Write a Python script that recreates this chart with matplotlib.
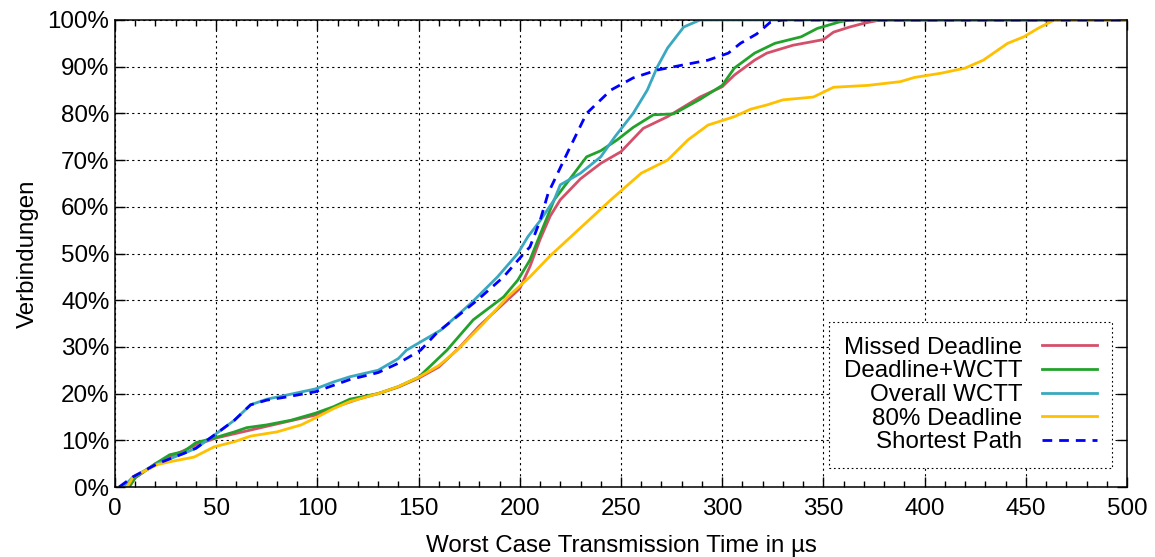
import numpy as np
import matplotlib
matplotlib.use("Agg")
import matplotlib.pyplot as plt
from matplotlib.ticker import MultipleLocator, FuncFormatter

plt.rcParams["font.family"] = ["Liberation Sans", "DejaVu Sans"]

# ── Data (x in µs, y in %) ───────────────────────────────────────────────────
missed_x = [7, 10, 20, 30, 40, 50, 60, 70, 80, 90, 100, 110, 120, 130, 140,
            150, 160, 170, 180, 190, 200, 205, 210, 215, 220, 230, 240, 250,
            261, 273, 289, 300, 306, 316, 322, 335, 350, 355, 363, 370, 378, 500]
missed_y = [0, 2, 5, 7, 9, 10.5, 11.5, 12.5, 13.5, 14.5, 15.5, 17.3, 18.8, 20,
            21.4, 23.3, 25.7, 29.8, 34.5, 38.5, 42.5, 47.2, 53, 58, 61.5, 66,
            69.3, 71.8, 76.8, 79.3, 83.5, 85.7, 88.2, 91.4, 92.9, 94.6, 95.8,
            97.4, 98.5, 99.3, 100, 100]

dwctt_x = [7, 10, 20, 27, 34, 40, 49, 59, 65, 75, 87, 99, 108, 116, 130, 140,
           150, 164, 177, 192, 199, 205, 210, 217, 233, 240, 248, 256, 266,
           276, 289, 300, 306, 316, 326, 339, 347, 358, 363, 500]
dwctt_y = [0, 2, 5, 6.9, 7.6, 9.5, 10.5, 11.8, 12.7, 13.3, 14.3, 15.8, 17.2,
           18.8, 20, 21.5, 23.5, 29.3, 35.8, 40.7, 44.3, 48.6, 54, 61.5, 70.7,
           72, 74.3, 77, 79.7, 79.9, 83, 86, 89.7, 92.9, 95, 96.4, 98.2, 99.6,
           100, 100]

overall_x = [4, 9, 21, 34, 40, 49, 59, 67, 75, 85, 99, 108, 116, 130, 140, 144,
             161, 176, 189, 199, 204, 210, 217, 220, 230, 240, 247, 256, 263,
             268, 273, 281, 289, 500]
overall_y = [0, 2.2, 5, 7.2, 8.3, 11.1, 14.3, 17.6, 18.8, 19.7, 21, 22.5, 23.6,
             25, 27.5, 29.3, 33.6, 39.4, 45, 50, 53.6, 57, 61.5, 64.7, 67.2,
             70.7, 75, 80, 85, 90, 94, 98.5, 100, 100]

d80_x = [6, 9, 21, 27, 39, 49, 59, 67, 80, 92, 100, 108, 116, 130, 140, 150,
         160, 169, 182, 194, 205, 215, 230, 245, 260, 273, 283, 293, 306, 314,
         322, 330, 345, 355, 372, 388, 395, 408, 420, 429, 441, 449, 456, 464,
         500]
d80_y = [0, 2.2, 4.8, 5.4, 6.4, 8.6, 9.7, 10.9, 11.8, 13.3, 15, 16.8, 18.3,
         20, 21.5, 23.5, 26, 29.3, 35, 40.7, 45, 49.5, 55.5, 61.5, 67.2, 70,
         74.3, 77.5, 79.3, 80.9, 81.8, 82.9, 83.5, 85.6, 86, 86.8, 87.7, 88.6,
         89.7, 91.4, 95, 96.4, 98.2, 100, 100]

short_x = [2, 9, 21, 34, 40, 49, 59, 67, 75, 85, 99, 116, 130, 140, 151, 159,
           179, 192, 202, 205, 210, 214, 224, 233, 245, 256, 268, 281, 293,
           303, 309, 317, 324, 330, 500]
short_y = [0, 2.2, 5, 7.2, 8.3, 11.1, 14.3, 17.6, 18.6, 19.3, 20.4, 23, 24.5,
           26.5, 29.3, 33, 40, 45, 50, 51.4, 57, 62.9, 72, 80, 85, 87.6, 89.3,
           90.4, 91.4, 92.9, 95, 97, 99.6, 100, 100]

series = [
    ("Missed Deadline", missed_x, missed_y, "#d4506a", "-"),
    ("Deadline+WCTT", dwctt_x, dwctt_y, "#22a22a", "-"),
    ("Overall WCTT", overall_x, overall_y, "#3aa8c0", "-"),
    ("80% Deadline", d80_x, d80_y, "#ffc000", "-"),
    ("Shortest Path", short_x, short_y, "#0000ff", (0, (3.5, 2.5))),
]

FS = 17.4

# ── Plot ──────────────────────────────────────────────────────────────────────
fig = plt.figure(figsize=(11.55, 5.57), dpi=100)
ax = fig.add_axes([115 / 1155, 70 / 557, 1012 / 1155, 467 / 557])

for label, xs, ys, colour, ls in series:
    ax.plot(xs, ys, color=colour, linestyle=ls, linewidth=2.0, label=label)

ax.set_xlim(0, 500)
ax.set_ylim(0, 100)
ax.xaxis.set_major_locator(MultipleLocator(50))
ax.xaxis.set_minor_locator(MultipleLocator(10))
ax.yaxis.set_major_locator(MultipleLocator(10))
ax.yaxis.set_major_formatter(FuncFormatter(lambda v, _: f"{v:.0f}%"))

ax.grid(True, which="major", color="black", linestyle=(0, (2, 3)),
        linewidth=0.8)
ax.tick_params(which="both", direction="in", top=True, right=True,
               labelsize=FS, width=1)
ax.tick_params(axis="x", pad=8)
ax.tick_params(axis="y", pad=4)
ax.tick_params(which="major", length=7)
ax.tick_params(which="minor", length=4)
for s in ax.spines.values():
    s.set_linewidth(1.1)

ax.set_xlabel("Worst Case Transmission Time in µs", fontsize=FS, labelpad=11)
ax.set_ylabel("Verbindungen", fontsize=FS, labelpad=6)

leg = ax.legend(loc="lower right", bbox_to_anchor=(0.985, 0.041),
                borderaxespad=0, markerfirst=False, fontsize=FS,
                handlelength=2.3, labelspacing=0.07, borderpad=0.6,
                handletextpad=0.8, fancybox=False, framealpha=1)
leg.get_frame().set_edgecolor("black")
leg.get_frame().set_linestyle((0, (1.5, 2.5)))
leg.get_frame().set_linewidth(0.8)

fig.savefig("out.png", dpi=100)
